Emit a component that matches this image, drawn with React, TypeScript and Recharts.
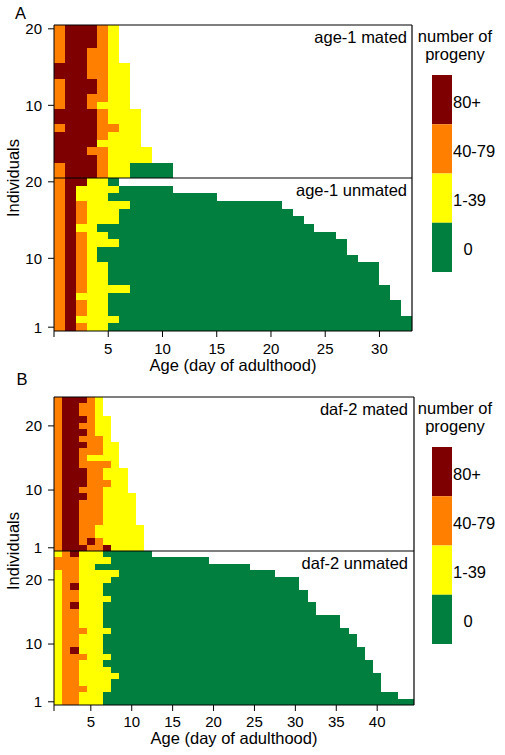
import React from "react";
import { ComposedChart, XAxis, YAxis, ReferenceArea, ReferenceLine } from "recharts";

const FONT = "'Liberation Sans', Arial, Helvetica, sans-serif";

// progeny classes, darkest first (same order as the key)
const progenyCodes = ["D", "O", "Y", "G"];
const progenyLabels = ["80+", "40-79", "1-39", "0"];
const progenyColors = ["#7f0000", "#ff7f00", "#ffff00", "#007f3f"];

// one letter per day of adulthood, first row = top individual of the panel
// D = 80+, O = 40-79, Y = 1-39, G = 0 progeny
const age1Mated = [
  "ODDDOY", "ODDDOY", "ODDDOY", "ODDOOY", "ODDOOY",
  "DDDOOYY", "DDDOOYY", "ODDDOYY", "ODDDOYY", "ODDOOYY",
  "ODDOYYY", "DDDDOYYY", "DDDDOYYY", "ODDDOOYY", "DDDDOYYY",
  "DDDDYYYY", "DDDOOYYYY", "DDDDOYYYY", "ODDDOYYGGGG", "ODDDOYYGGGG",
];

// unmated: reproductive days, then 0-progeny days up to the last day scored
const age1Unmated = [
  "ODDYYG", "ODYYYY", "ODYYY", "ODOYYYY", "ODOYYY",
  "ODOYYY", "ODYY", "ODOYY", "ODOYYY", "ODOY",
  "ODOY", "ODOYY", "ODOYY", "ODOYY", "ODOYYYY",
  "ODYYY", "ODOYY", "ODOYY", "ODYYYY", "ODOYY",
];
const age1UnmatedLastDay = [6, 11, 15, 21, 22, 23, 24, 26, 27, 27, 28, 30, 30, 30, 31, 31, 32, 32, 33, 33];

const daf2Mated = [
  "ODDDOY", "ODDOOY", "ODDOOY", "ODDDOYY", "ODDOOYY",
  "ODDDOYY", "ODDOOOY", "ODDDOOYY", "ODDOOOYY", "ODDOYYYY",
  "ODDOOOOY", "ODDDOOYYY", "ODDDOOYYY", "ODDDOOOYY", "ODDOOOYYY",
  "ODDDOOYYYY", "ODDOOOYYYY", "ODDOOOYYYY", "ODDOOOYYYY", "ODDOOOYYYY",
  "ODDOOYYYYYY", "ODDOOYYYYYY", "ODDODOYYYYY", "ODDDOODYYYY",
];

const daf2Unmated = [
  "YODYYY", "OOOYYYY", "OOOYY", "YOOYYYYY", "YOOYYYY",
  "YODYYY", "YOOYYY", "YOOYYYY", "YODYYY", "YOOYYY",
  "YOOYYY", "YOOYYY", "YOOOYYY", "YOOYYY", "YOOYYY",
  "YODYYY", "YOOOYYY", "YOOYYY", "YOOYYYY", "YOOYYYYY",
  "YOOYYYY", "YOOOYYY", "YOOYYY", "YOOYYY",
];
const daf2UnmatedLastDay = [12, 19, 24, 27, 30, 30, 31, 31, 32, 32, 35, 35, 36, 37, 37, 38, 38, 39, 39, 40, 40, 40, 42, 44];

const age1XTicks = [0, 5, 10, 15, 20, 25, 30];
const daf2XTicks = [0.5, 5, 10, 15, 20, 25, 30, 35, 40];

type Run = { ind: number; from: number; to: number; code: string };

function dayCode(pattern: string, d: number) {
  return d <= pattern.length ? pattern[d - 1] : "G";
}

// merge consecutive days of the same class into one run per row
function toRuns(rows: string[], lastDay?: number[]): Run[] {
  const out: Run[] = [];
  rows.forEach((pattern, i) => {
    const ind = rows.length - i;
    const end = lastDay ? lastDay[i] : pattern.length;
    let start = 1;
    for (let d = 1; d <= end; d++) {
      const c = dayCode(pattern, d);
      const next = d < end ? dayCode(pattern, d + 1) : null;
      if (next !== c) {
        out.push({ ind, from: start, to: d, code: c });
        start = d + 1;
      }
    }
  });
  return out;
}

function colorOf(code: string) {
  return progenyColors[progenyCodes.indexOf(code)];
}

type PanelProps = {
  rows: string[];
  lastDay?: number[];
  plotTop: number;
  plotHeight: number;
  plotRight: number;
  xDomain: [number, number];
  xTicks: number[];
  cellShift: number;
  yTicks: number[];
  showX: boolean;
  tickGap?: number;
};

function HeatPanel(p: PanelProps) {
  const n = p.rows.length;
  const runs = toRuns(p.rows, p.lastDay);
  const pad = 12;
  const axisH = p.showX ? 30 : 0;
  const bottom = p.showX ? 2 : 10;
  const h = pad + p.plotHeight + axisH + bottom;
  const tickStyle = { fontSize: 15, fill: "#000", fontFamily: FONT };
  return (
    <div style={{ position: "absolute", left: 0, top: p.plotTop - pad }}>
      <ComposedChart
        width={505}
        height={h}
        margin={{ top: pad, right: 505 - p.plotRight, bottom, left: 14 }}
      >
        <XAxis
          type="number"
          dataKey="day"
          domain={p.xDomain}
          ticks={p.xTicks}
          allowDataOverflow
          hide={!p.showX}
          height={axisH}
          interval={0}
          tickSize={6}
          tickMargin={p.tickGap ?? 6}
          tickFormatter={(v: number) => (v < 1 ? "" : String(v))}
          tick={tickStyle}
          axisLine={{ stroke: "#000" }}
          tickLine={{ stroke: "#000" }}
        />
        <YAxis
          type="number"
          dataKey="ind"
          domain={[0.5, n + 0.5]}
          ticks={p.yTicks}
          allowDataOverflow
          width={40}
          interval={0}
          tickSize={6}
          tickMargin={6}
          tick={tickStyle}
          axisLine={{ stroke: "#000" }}
          tickLine={{ stroke: "#000" }}
        />
        {runs.map((r, i) => (
          <ReferenceArea
            key={`r-${i}`}
            x1={r.from - 1 + p.cellShift}
            x2={r.to + p.cellShift}
            y1={r.ind - 0.5}
            y2={r.ind + 0.5}
            fill={colorOf(r.code)}
            fillOpacity={1}
            stroke="none"
            shapeRendering="crispEdges"
            ifOverflow="visible"
          />
        ))}
        <ReferenceLine y={n + 0.5} stroke="#000" strokeWidth={1.2} ifOverflow="visible" />
        <ReferenceLine x={p.xDomain[1]} stroke="#000" strokeWidth={1.2} ifOverflow="visible" />
      </ComposedChart>
    </div>
  );
}

function ProgenyKey({ plotTop }: { plotTop: number }) {
  const barTop = plotTop + 50;
  const blockH = 49.25;
  return (
    <g>
      <text x={455} y={plotTop + 17} textAnchor="middle">number of</text>
      <text x={455} y={plotTop + 35} textAnchor="middle">progeny</text>
      {progenyCodes.map((c, i) => (
        <g key={c}>
          <rect x={432} y={barTop + i * blockH} width={20} height={blockH} fill={progenyColors[i]} />
          <text
            x={c === "G" ? 468 : 453}
            y={barTop + i * blockH + blockH / 2 + 8}
            textAnchor={c === "G" ? "middle" : "start"}
          >
            {progenyLabels[i]}
          </text>
        </g>
      ))}
    </g>
  );
}

export default function App() {
  return (
    <div style={{ position: "absolute", left: 0, top: 0, width: 505, height: 755, background: "#fff" }}>
      <HeatPanel
        rows={age1Mated}
        plotTop={25}
        plotHeight={153}
        plotRight={412}
        xDomain={[0, 33]}
        xTicks={age1XTicks}
        cellShift={0}
        yTicks={[10, 20]}
        showX={false}
      />
      <HeatPanel
        rows={age1Unmated}
        lastDay={age1UnmatedLastDay}
        plotTop={178}
        plotHeight={153}
        plotRight={412}
        xDomain={[0, 33]}
        xTicks={age1XTicks}
        cellShift={0}
        yTicks={[1, 10, 20]}
        showX
        tickGap={6}
      />
      <HeatPanel
        rows={daf2Mated}
        plotTop={397}
        plotHeight={154}
        plotRight={414}
        xDomain={[0.5, 44.5]}
        xTicks={daf2XTicks}
        cellShift={0.5}
        yTicks={[1, 10, 20]}
        showX={false}
      />
      <HeatPanel
        rows={daf2Unmated}
        lastDay={daf2UnmatedLastDay}
        plotTop={551}
        plotHeight={154}
        plotRight={414}
        xDomain={[0.5, 44.5]}
        xTicks={daf2XTicks}
        cellShift={0.5}
        yTicks={[1, 10, 20]}
        showX
        tickGap={5}
      />
      <svg
        width={505}
        height={755}
        style={{ position: "absolute", left: 0, top: 0, pointerEvents: "none" }}
        fontFamily={FONT}
        fontSize={16.5}
        fill="#000"
      >
        <text x={15} y={18.5}>A</text>
        <text x={16.5} y={385}>B</text>
        <text x={407} y={43} textAnchor="end">age-1 mated</text>
        <text x={407} y={196} textAnchor="end">age-1 unmated</text>
        <text x={408} y={415} textAnchor="end">daf-2 mated</text>
        <text x={408} y={569} textAnchor="end">daf-2 unmated</text>
        <text transform="translate(19,178) rotate(-90)" textAnchor="middle">Individuals</text>
        <text transform="translate(19,551) rotate(-90)" textAnchor="middle">Individuals</text>
        <text x={233} y={371} textAnchor="middle">Age (day of adulthood)</text>
        <text x={234} y={744} textAnchor="middle">Age (day of adulthood)</text>
        <ProgenyKey plotTop={25} />
        <ProgenyKey plotTop={397} />
      </svg>
    </div>
  );
}
